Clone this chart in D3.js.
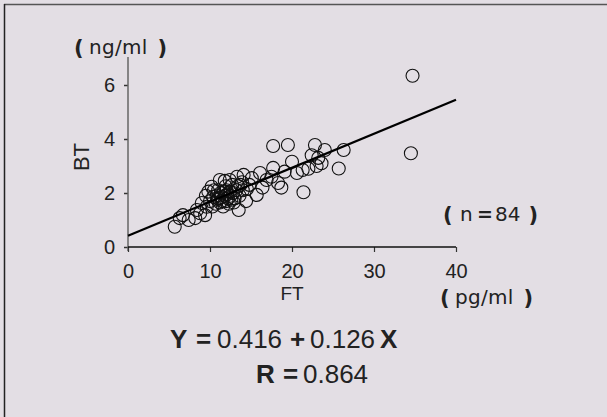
<!DOCTYPE html>
<html>
<head>
<meta charset="utf-8">
<script src="https://cdn.jsdelivr.net/npm/d3@7"></script>
<style>
  html, body { margin: 0; padding: 0; background: #e3dee4; }
  svg { display: block; }
  text { font-family: "Liberation Sans", Arial, sans-serif; fill: #222; }
  .unit { font-family: "DejaVu Sans", sans-serif; }
</style>
</head>
<body>
<svg id="chart" width="607" height="417"></svg>
<script>
// ---- data ----
const ftValues = [
  34.7, 34.5,
  17.7, 19.5, 22.8, 24.0, 26.3, 25.7, 21.4, 23.6, 22.4, 23.2, 20.0, 21.3, 20.6, 19.1, 17.7, 18.3, 16.9, 16.1,
  15.7, 15.1, 14.1, 13.7, 13.5, 12.4, 18.7, 17.5, 16.4, 14.8, 22.0, 23.0,
  5.7, 6.7, 6.3, 7.4, 8.2, 8.4, 9.4, 9.6, 9.0, 9.8, 10.2, 11.2, 11.8, 13.3, 10.4, 10.0, 10.7, 11.0, 11.3, 11.5,
  11.8, 12.0, 12.2, 12.5, 12.8, 13.0, 12.3, 11.6, 11.0, 10.8, 12.7, 13.2, 13.6, 14.0, 14.4, 12.0, 11.4, 12.6,
  10.5, 13.9, 9.5, 11.9, 12.9, 14.5, 11.2, 12.1, 10.9, 12.4, 11.7, 13.4, 8.8, 10.3
];
const btValues = [
  6.34, 3.47,
  3.74, 3.78, 3.78, 3.59, 3.59, 2.91, 2.03, 3.10, 3.40, 3.30, 3.16, 2.85, 2.74, 2.79, 2.93, 2.37, 2.48, 2.74,
  1.93, 2.55, 2.67, 2.30, 1.37, 2.48, 2.20, 2.60, 2.20, 2.30, 2.90, 3.00,
  0.75, 1.18, 1.07, 1.00, 1.07, 1.37, 1.18, 1.49, 1.63, 2.05, 2.23, 2.48, 2.45, 2.60, 1.86, 1.70, 1.60, 1.80, 2.00, 1.70,
  1.90, 2.10, 1.80, 1.90, 2.00, 1.80, 1.60, 1.50, 2.10, 1.90, 2.30, 2.10, 1.90, 2.10, 1.70, 1.70, 1.85, 1.75,
  2.10, 2.40, 1.90, 2.25, 1.65, 2.15, 1.65, 1.95, 1.75, 2.05, 2.05, 2.25, 1.25, 1.50
];
const xTicks = [0, 10, 20, 30, 40];
const yTicks = [0, 2, 4, 6];
const intercept = 0.416;
const slope = 0.126;
const rValue = 0.864;
const nValue = 84;

// ---- drawing ----
const svg = d3.select("#chart");

// frame (left and top edges)
svg.append("line").attr("x1", 4).attr("x2", 607).attr("y1", 4.5).attr("y2", 4.5)
  .attr("stroke", "#555").attr("stroke-width", 1.5);
svg.append("line").attr("x1", 4.5).attr("x2", 4.5).attr("y1", 4).attr("y2", 417)
  .attr("stroke", "#222").attr("stroke-width", 1.5);

const x = d3.scaleLinear().domain([0, 40]).range([128, 456]);
const y = d3.scaleLinear().domain([0, 7]).range([247, 58]);

// y axis
const yAxis = svg.append("g").attr("transform", `translate(${x(0)},0)`)
  .call(d3.axisLeft(y).tickValues(yTicks).tickFormat(d3.format("d")).tickSize(4).tickPadding(9).tickSizeOuter(0));
yAxis.select(".domain").remove();
yAxis.selectAll(".tick line").attr("stroke", "#333").attr("stroke-width", 1.5);
yAxis.selectAll("text").style("font-size", "20px").attr("fill", "#222");
svg.append("line").attr("x1", x(0)).attr("x2", x(0)).attr("y1", y(0) + 4).attr("y2", y(7) - 1)
  .attr("stroke", "#666").attr("stroke-width", 1.5);

// x axis
const xAxis = svg.append("g").attr("transform", `translate(0,${y(0)})`)
  .call(d3.axisBottom(x).tickValues(xTicks).tickFormat(d3.format("d")).tickSize(5).tickPadding(12).tickSizeOuter(0));
xAxis.select(".domain").remove();
xAxis.selectAll(".tick line").attr("stroke", "#333").attr("stroke-width", 1.2);
xAxis.selectAll("text").style("font-size", "20px").attr("fill", "#222");
svg.append("line").attr("x1", x(0)).attr("x2", x(40)).attr("y1", y(0)).attr("y2", y(0))
  .attr("stroke", "#111").attr("stroke-width", 1.5);

// points
const pts = ftValues.map((v, i) => ({ ft: v, bt: btValues[i] }));
svg.append("g").selectAll("circle").data(pts).join("circle")
  .attr("cx", d => x(d.ft)).attr("cy", d => y(d.bt)).attr("r", 6.5)
  .attr("fill", "none").attr("stroke", "#111").attr("stroke-width", 1.1);

// regression line
svg.append("line")
  .attr("x1", x(0)).attr("y1", y(intercept))
  .attr("x2", x(40)).attr("y2", y(intercept + slope * 40))
  .attr("stroke", "#000").attr("stroke-width", 2.2);

// axis titles
svg.append("text").attr("x", 81.5).attr("y", 157).attr("transform", "rotate(-90,81.5,157)")
  .attr("text-anchor", "middle").attr("dy", "0.36em").style("font-size", "22px").text("BT");
svg.append("text").attr("x", 292).attr("y", 300).attr("text-anchor", "middle")
  .style("font-size", "19px").text("FT");

// bracketed unit labels: parenthesis, content, parenthesis
function bracketed(x0, content, baseline) {
  const g = svg.append("g");
  g.append("text").attr("class", "unit").attr("x", x0 - 1).attr("y", baseline + 1)
    .style("font-size", "21px").style("font-weight", "bold").text("(");
  g.append("text").attr("class", "unit").attr("x", x0 + 14).attr("y", baseline).style("font-size", "20px")
    .style("letter-spacing", "0.3px").text(content);
  g.append("text").attr("class", "unit").attr("x", x0 + 92).attr("y", baseline + 1).attr("text-anchor", "end")
    .style("font-size", "21px").style("font-weight", "bold").text(")");
  return g;
}
bracketed(75, "ng/ml", 54);
bracketed(441, "pg/ml", 304);
// (n = 84)
const nG = svg.append("g");
nG.append("text").attr("class", "unit").attr("x", 443).attr("y", 222)
  .style("font-size", "21px").style("font-weight", "bold").text("(");
nG.append("text").attr("class", "unit").attr("x", 460).attr("y", 221).style("font-size", "20px").text("n");
nG.append("text").attr("class", "unit").attr("x", 477).attr("y", 221).style("font-size", "19px").style("font-weight", "bold").text("=");
nG.append("text").attr("class", "unit").attr("x", 495).attr("y", 221).style("font-size", "20px").text(String(nValue));
nG.append("text").attr("class", "unit").attr("x", 538).attr("y", 222).attr("text-anchor", "end")
  .style("font-size", "21px").style("font-weight", "bold").text(")");

// equation
const eq = svg.append("g").style("font-size", "26px");
eq.append("text").attr("x", 170).attr("y", 348).style("font-weight", "bold").text("Y");
eq.append("text").attr("x", 196).attr("y", 348).style("font-weight", "bold").text("=");
eq.append("text").attr("x", 217).attr("y", 348).text(intercept.toFixed(3));
eq.append("text").attr("x", 290).attr("y", 348).style("font-weight", "bold").text("+");
eq.append("text").attr("x", 310).attr("y", 348).text(slope.toFixed(3));
eq.append("text").attr("x", 380).attr("y", 348).style("font-weight", "bold").text("X");
eq.append("text").attr("x", 256).attr("y", 383).style("font-weight", "bold").text("R");
eq.append("text").attr("x", 283).attr("y", 383).style("font-weight", "bold").text("=");
eq.append("text").attr("x", 303).attr("y", 383).text(rValue.toFixed(3));
</script>
</body>
</html>
